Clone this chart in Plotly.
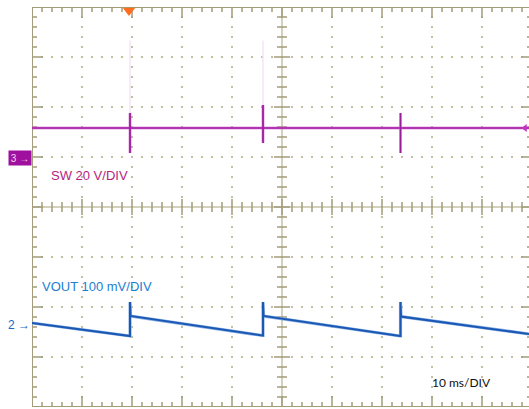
import numpy as np
import plotly.graph_objects as go

# scope setup: 10 ms/div horizontally, 8 vertical divisions
MS_PER_DIV = 10
SW_V_PER_DIV = 20
SW_OFFSET_DIV = 0.98      # channel 3 ground marker
VOUT_MV_PER_DIV = 100
VOUT_OFFSET_DIV = -2.36   # channel 2 reference marker

# SW node (V) vs time (ms), spikes at each refresh pulse
sw_t = [0, 19.6, 19.6, 19.6, 19.6, 46.2, 46.2, 46.2, 46.2, 73.7, 73.7, 73.7, 73.7, 99.4]
sw_v = [12, 12, 18, 2, 12, 12, 21.2, 6, 12, 12, 18, 2, 12, 12]

# faint persistence above the first two spikes
ghost_t = [19.6, 19.6, None, 46.2, 46.2]
ghost_v = [18, 47, None, 21.2, 47]

# VOUT ripple (mV, ac) vs time (ms)
vout_t = [0, 19.5, 19.6, 19.6, 19.7, 46.1, 46.2, 46.2, 46.3, 73.6, 73.7, 73.7, 73.8, 99.4]
vout_mv = [4, -22, -22, 46, 18, -21, -21, 46, 18, -22, -22, 46, 17, -18]

trigger_t = 19.4

FRAME = "#a29c7a"
AXIS = "#c4c0a4"
DOT = "#c2bea2"
FONT = "Arial, Liberation Sans, sans-serif"


def sw_div(v):
    return [None if x is None else x / SW_V_PER_DIV + SW_OFFSET_DIV for x in v]


def vout_div(v):
    return [x / VOUT_MV_PER_DIV + VOUT_OFFSET_DIV for x in v]


fig = go.Figure()

# dotted graticule
gx, gy = [], []
for yd in [-3, -2, -1, 1, 2, 3]:
    xs = np.arange(2, 100, 2)
    gx += list(xs)
    gy += [yd] * len(xs)
for xd in [10, 20, 30, 40, 60, 70, 80, 90]:
    ys = np.arange(-3.8, 4, 0.2)
    gx += [xd] * len(ys)
    gy += list(ys)
fig.add_trace(go.Scatter(x=gx, y=gy, mode="markers",
                         marker=dict(symbol="square", size=2, color=DOT),
                         hoverinfo="skip", showlegend=False))

# frame and center axis ticks
tx, ty = [], []
for yv in np.arange(-4, 4.01, 0.2):
    major = abs(yv - round(yv)) < 1e-6
    ln = 2.2 if major else 1.0
    tx += [0, ln, None, 100, 100 - ln, None]
    ty += [yv, yv, None, yv, yv, None]
    cl = 1.6 if major else 1.0
    tx += [50 - cl, 50 + cl, None]
    ty += [yv, yv, None]
for xv in np.arange(0, 100.01, 2):
    major = abs(xv / 10 - round(xv / 10)) < 1e-6
    ln = 0.22 if major else 0.1
    tx += [xv, xv, None, xv, xv, None]
    ty += [4, 4 - ln, None, -4, -4 + ln, None]
    cl = 0.16 if major else 0.1
    tx += [xv, xv, None]
    ty += [-cl, cl, None]

fig.add_trace(go.Scatter(x=[50, 50, None, 0, 100], y=[-4, 4, None, 0, 0], mode="lines",
                         line=dict(color=AXIS, width=1.5), hoverinfo="skip", showlegend=False))
fig.add_trace(go.Scatter(x=tx, y=ty, mode="lines", line=dict(color=FRAME, width=1.5),
                         hoverinfo="skip", showlegend=False))
fig.add_trace(go.Scatter(x=[100, 0, 0, 100], y=[4, 4, -4, -4], mode="lines",
                         line=dict(color=FRAME, width=2), hoverinfo="skip", showlegend=False))

# SW trace
fig.add_trace(go.Scatter(x=ghost_t, y=sw_div(ghost_v), mode="lines",
                         line=dict(color="#f3e4f3", width=1.5), hoverinfo="skip", showlegend=False))
fig.add_trace(go.Scatter(x=sw_t, y=sw_div(sw_v), mode="lines",
                         line=dict(color="#c84ac8", width=2.5), showlegend=False))
fig.add_trace(go.Scatter(x=sw_t, y=sw_div(sw_v), mode="lines",
                         line=dict(color="#9a1e9a", width=1), showlegend=False))

# VOUT trace
fig.add_trace(go.Scatter(x=vout_t, y=vout_div(vout_mv), mode="lines",
                         line=dict(color="#8db3e6", width=3.2), showlegend=False))
fig.add_trace(go.Scatter(x=vout_t, y=vout_div(vout_mv), mode="lines",
                         line=dict(color="#1a58b4", width=2), showlegend=False))

# trigger and level markers
fig.add_trace(go.Scatter(x=[trigger_t], y=[3.93], mode="markers", cliponaxis=False,
                         marker=dict(symbol="triangle-down", size=11, color="#ff6e1e"),
                         showlegend=False))
fig.add_trace(go.Scatter(x=[98.6], y=sw_div([12]), mode="markers", cliponaxis=False,
                         marker=dict(symbol="triangle-left", size=7, color="#c038c0"),
                         showlegend=False))

fig.add_annotation(x=0, y=SW_OFFSET_DIV, xref="x", yref="y", xanchor="right", yanchor="middle",
                   text="3 →", showarrow=False, width=20, height=12, borderpad=1,
                   bgcolor="#a0109f", font=dict(family=FONT, size=10, color="#f0d8f0"))
fig.add_annotation(x=0, y=VOUT_OFFSET_DIV, xref="x", yref="y", xanchor="right", yanchor="middle",
                   text="2 →", showarrow=False,
                   font=dict(family=FONT, size=12, color="#1a64c8"))

fig.add_annotation(x=3.4, y=0.64, xref="x", yref="y", xanchor="left", yanchor="middle",
                   text="SW 20 V/DIV", showarrow=False,
                   font=dict(family=FONT, size=13, color="#b41e80"))
fig.add_annotation(x=1.6, y=-1.58, xref="x", yref="y", xanchor="left", yanchor="middle",
                   text="VOUT 100 mV/DIV", showarrow=False,
                   font=dict(family=FONT, size=13, color="#1a80d2"))
fig.add_annotation(x=79.6, y=-3.5, xref="x", yref="y", xanchor="left", yanchor="middle",
                   text="10 ms/DIV", showarrow=False,
                   font=dict(family="Lato", size=12, color="#111111"))

fig.update_layout(
    width=529, height=409,
    margin=dict(l=32, r=0, t=7, b=2),
    paper_bgcolor="white", plot_bgcolor="white",
    xaxis=dict(range=[0, 99.4], visible=False, fixedrange=True),
    yaxis=dict(range=[-4, 4], visible=False, fixedrange=True),
)

# page body has a default 8px margin; drop it so the figure sits at the window corner
fig.write_html("out.html", post_script="document.body.style.margin='0';",
               config={"displayModeBar": False})
